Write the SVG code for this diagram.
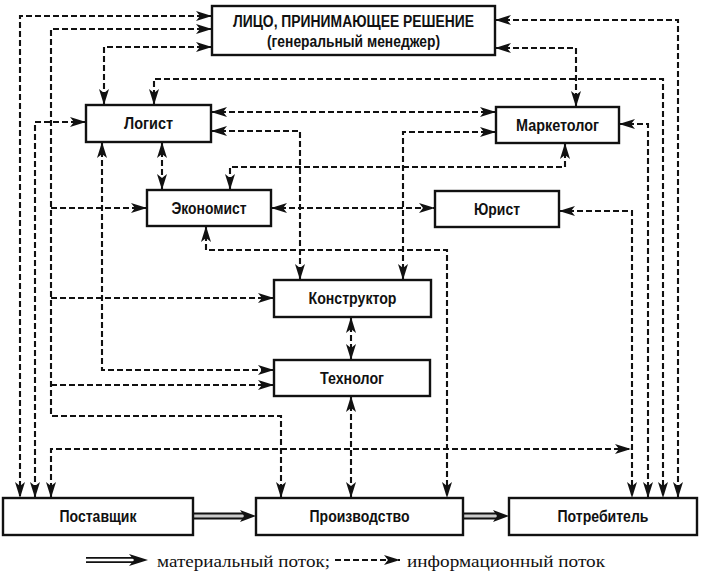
<svg xmlns="http://www.w3.org/2000/svg" width="703" height="582" viewBox="0 0 703 582">
<style>
.box{fill:#fff;stroke:#111;stroke-width:2.4}
.lbl{font-family:"Liberation Sans Narrow","Arial Narrow","Liberation Sans",Arial,sans-serif;font-weight:bold;font-size:16px;fill:#111;text-anchor:middle}
.info{fill:none;stroke:#111;stroke-width:2.1;stroke-dasharray:6 3;marker-start:url(#ah);marker-end:url(#ah)}
.one{fill:none;stroke:#111;stroke-width:2.1;stroke-dasharray:6 3;marker-end:url(#ah)}
.leg{font-family:"Liberation Serif","Times New Roman",serif;font-size:17px;fill:#111}
</style>
<defs>
<marker id="ah" viewBox="0 0 16 10" refX="16" refY="5" markerWidth="16" markerHeight="10" markerUnits="userSpaceOnUse" orient="auto-start-reverse">
<path d="M0,0 L16,5 L0,10 L4,5 z" fill="#111"/>
</marker>
</defs>
<rect width="703" height="582" fill="#fff"/>
<g id="connectors">
<path class="info" d="M212,16 H20 V498"/>
<path class="info" d="M212,29 H51 V416 H281 V498"/>
<path class="one" d="M51,208 H147"/>
<path class="one" d="M51,298 H274"/>
<path class="one" d="M51,385 H274"/>
<path class="info" d="M86,122 H35 V498"/>
<path class="info" d="M212,47 H104 V105"/>
<path class="info" d="M154,105 V79 H663 V498"/>
<path class="info" d="M495,20 H678 V498"/>
<path class="info" d="M495,48 H576 V107"/>
<path class="info" d="M211,112 H496"/>
<path class="info" d="M211,131 H300 V280"/>
<path class="info" d="M496,132 H403 V280"/>
<path class="info" d="M565,143 V167 H230 V190"/>
<path class="info" d="M619,124 H648 V498"/>
<path class="info" d="M271,208 H435"/>
<path class="info" d="M559,211 H632 V498"/>
<path class="info" d="M206,226 V250 H447 V498"/>
<path class="info" d="M102,142 V370 H274"/>
<path class="info" d="M162,142 V190"/>
<path class="info" d="M351,317 V360"/>
<path class="info" d="M351,396 V498"/>
<path class="info" d="M51,498 V449 H631"/>
<g id="material">
<line x1="193" y1="516" x2="243" y2="516" stroke="#111" stroke-width="7"/>
<line x1="193" y1="516" x2="244" y2="516" stroke="#ccc" stroke-width="3"/>
<path d="M240,510 L256,516 L240,522 L244,516 z" fill="#111"/>
<line x1="463" y1="516" x2="496" y2="516" stroke="#111" stroke-width="7"/>
<line x1="463" y1="516" x2="497" y2="516" stroke="#ccc" stroke-width="3"/>
<path d="M493,510 L509,516 L493,522 L497,516 z" fill="#111"/>
</g>
</g>
<g id="lpr"><rect class="box" x="212" y="6" width="283" height="49"/>
<text class="lbl" x="353.5" y="27" font-size="15.5" textLength="241" lengthAdjust="spacingAndGlyphs">ЛИЦО, ПРИНИМАЮЩЕЕ РЕШЕНИЕ</text>
<text class="lbl" x="353.5" y="47" font-size="15.5" textLength="173" lengthAdjust="spacingAndGlyphs">(генеральный менеджер)</text></g>
<g id="logist"><rect class="box" x="86" y="105" width="125" height="37"/>
<text class="lbl" x="148.5" y="129" textLength="49" lengthAdjust="spacingAndGlyphs">Логист</text></g>
<g id="marketolog"><rect class="box" x="496" y="107" width="123" height="36"/>
<text class="lbl" x="557.5" y="131" textLength="83" lengthAdjust="spacingAndGlyphs">Маркетолог</text></g>
<g id="economist"><rect class="box" x="147" y="190" width="124" height="36"/>
<text class="lbl" x="209" y="214" textLength="75" lengthAdjust="spacingAndGlyphs">Экономист</text></g>
<g id="jurist"><rect class="box" x="435" y="191" width="124" height="36"/>
<text class="lbl" x="497" y="215" textLength="46" lengthAdjust="spacingAndGlyphs">Юрист</text></g>
<g id="konstruktor"><rect class="box" x="274" y="280" width="157" height="37"/>
<text class="lbl" x="352.5" y="304" textLength="88" lengthAdjust="spacingAndGlyphs">Конструктор</text></g>
<g id="tehnolog"><rect class="box" x="274" y="360" width="156" height="36"/>
<text class="lbl" x="352" y="384" textLength="64" lengthAdjust="spacingAndGlyphs">Технолог</text></g>
<g id="postavshik"><rect class="box" x="3" y="498" width="190" height="37"/>
<text class="lbl" x="98" y="522" textLength="77" lengthAdjust="spacingAndGlyphs">Поставщик</text></g>
<g id="proizvodstvo"><rect class="box" x="256" y="498" width="207" height="37"/>
<text class="lbl" x="359.5" y="522" textLength="100" lengthAdjust="spacingAndGlyphs">Производство</text></g>
<g id="potrebitel"><rect class="box" x="509" y="498" width="188" height="37"/>
<text class="lbl" x="603" y="522" textLength="91" lengthAdjust="spacingAndGlyphs">Потребитель</text></g>
<g id="legend">
<line x1="86" y1="560" x2="134" y2="560" stroke="#111" stroke-width="6"/>
<line x1="86" y1="560" x2="135" y2="560" stroke="#fff" stroke-width="2.5"/>
<path d="M129,554 L148,560 L129,566 L134,560 z" fill="#111"/>
<text class="leg" x="157" y="567" textLength="173" lengthAdjust="spacingAndGlyphs">материальный поток;</text>
<path class="one" d="M335,560 H400"/>
<text class="leg" x="407" y="567" textLength="198" lengthAdjust="spacingAndGlyphs">информационный поток</text>
</g>
</svg>
